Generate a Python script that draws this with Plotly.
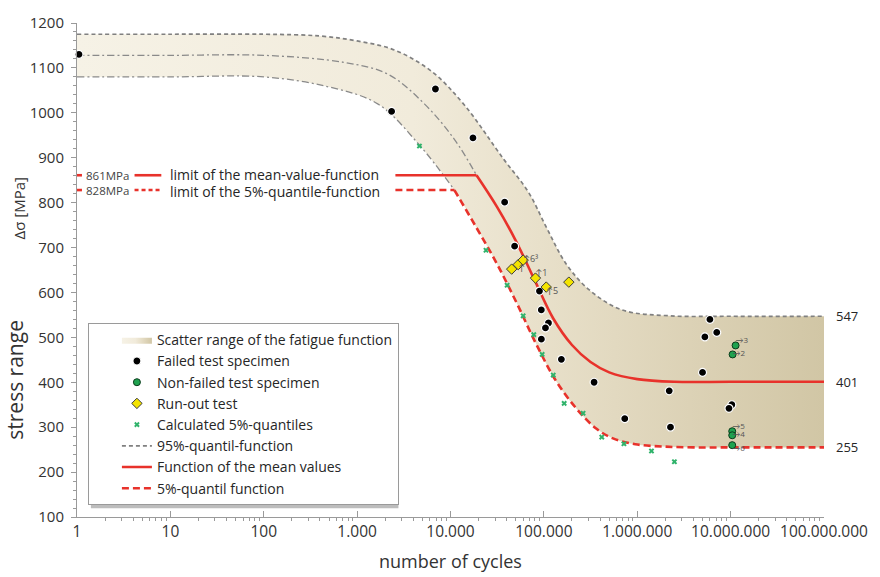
import plotly.graph_objects as go

FONT = "'Open Sans', Lato, sans-serif"
TXT = "#262626"
RED = "#e8322b"
GREY = "#8a8a8a"

# ---------------- axis ticks ----------------
cycle_ticks = [1, 10, 100, 1e3, 1e4, 1e5, 1e6, 1e7, 1e8]
cycle_labels = ["1", "10", "100", "1.000", "10.000", "100.000",
                "1.000.000", "10.000.000", "100.000.000"]
cycle_minor = [k * 10 ** e for e in range(8) for k in range(2, 10)]

# ---------------- fatigue functions (stress range in MPa) ----------------
# 95 % quantile function
q95_N = [1, 10, 100, 400, 1000, 2500, 6300, 14000, 37000, 68000, 107000,
         174000, 309000, 690000, 2.2e6, 1e7, 1e8]
q95_S = [1175, 1175, 1175, 1171, 1160, 1140, 1092, 1018, 897, 824, 744,
         663, 605, 561, 548, 547, 547]

# mean-value function above its limit (not valid, dash-dot)
mean_hi_N = [1, 10, 100, 740, 2140, 5250, 11000, 19000]
mean_hi_S = [1128, 1128, 1128, 1112, 1086, 1020, 941, 861]
# mean-value function below its limit
mean_N = [19000, 31600, 50100, 79400, 126000, 200000, 316000, 501000,
          1e6, 2.5e6, 1e7, 1e8]
mean_S = [861, 790, 715, 628, 542, 483, 445, 422, 407, 401, 401, 401]

# 5 % quantile function above its limit (dash-dot)
q05_hi_N = [1, 10, 100, 490, 1660, 4570, 11000]
q05_hi_S = [1080, 1080, 1080, 1058, 1020, 930, 828]
# 5 % quantile function below its limit
q05_N = [11000, 19000, 31600, 51300, 83200, 135000, 224000, 363000, 550000,
         955000, 1.86e6, 4e6, 1e7, 1e8]
q05_S = [828, 744, 663, 576, 484, 403, 341, 297, 275, 262, 257, 255, 255, 255]

# limits of the functions
mean_limit = 861
q05_limit = 828
limit_start_N = 2570

# endurance levels
endurance = [547, 401, 255]

# ---------------- test results ----------------
failed_N = [1.05, 2340, 6900, 17400, 38000, 48600, 89700, 93900, 112000, 104000,
            94000, 154000, 345000, 2.2e6, 735000, 2.27e6, 5.0e6, 6.0e6, 7.1e6,
            5.3e6, 1.03e7, 9.6e6]
failed_S = [1130, 1003, 1053, 944, 801, 703, 603, 561, 532, 521,
            496, 451, 400, 381, 319, 300, 422, 540, 511, 501, 350, 342]

nonfailed_N = [1.13e7, 1.05e7, 1.04e7, 1.04e7, 1.04e7]
nonfailed_S = [482, 462, 291, 282, 260]
nonfailed_tags = ["\u21923", "\u21922", "\u21925", "\u21924", "\u21926"]
nonfailed_tagpos = ["top right", "middle right", "top right",
                    "middle right", "bottom right"]

runout_N = [45200, 53100, 60000, 81300, 106000, 185000]
runout_S = [652, 662, 672, 632, 612, 623]
runout_tags = ["", "\u2191", "\u21916\u00b3", "\u21911", "\u21915", ""]
runout_tagpos = ["bottom right", "bottom right", "middle right",
                 "top right", "bottom right", "middle right"]

calc5_N = [4650, 24000, 40400, 60000, 78000, 95800, 126000, 165000, 263000,
           417000, 720000, 1.42e6, 2.5e6]
calc5_S = [926, 694, 616, 548, 506, 462, 416, 353, 331, 278, 263, 247, 223]

fig = go.Figure()

# scatter band between the 5 % and the 95 % quantile function
fig.add_trace(go.Scatter(
    x=q05_hi_N + q05_N[1:], y=q05_hi_S + q05_S[1:], mode="lines",
    line=dict(width=0, shape="spline"), showlegend=False, hoverinfo="skip"))
fig.add_trace(go.Scatter(
    x=q95_N, y=q95_S, mode="lines", fill="tonexty",
    line=dict(width=0, shape="spline"),
    fillgradient=dict(type="horizontal",
                      colorscale=[[0, "#f6f2e6"], [0.45, "#f1ebdb"],
                                  [0.62, "#e8e0ca"], [0.82, "#dcd2b6"],
                                  [1, "#d1c6a5"]]),
    name="Scatter range of the fatigue function", legendrank=1))

# dash-dot continuation of the functions above their limits
fig.add_trace(go.Scatter(
    x=mean_hi_N, y=mean_hi_S, mode="lines", showlegend=False,
    line=dict(color=GREY, width=1.3, dash="7px,3px,2px,3px", shape="spline")))
fig.add_trace(go.Scatter(
    x=q05_hi_N, y=q05_hi_S, mode="lines", showlegend=False,
    line=dict(color=GREY, width=1.3, dash="7px,3px,2px,3px", shape="spline")))

# 95 % quantile function
fig.add_trace(go.Scatter(
    x=q95_N, y=q95_S, mode="lines", name="95%-quantil-function", legendrank=6,
    line=dict(color="#808080", width=1.7, dash="4px,3px", shape="spline")))

# limits
fig.add_trace(go.Scatter(
    x=[limit_start_N, mean_N[0]], y=[mean_limit, mean_limit], mode="lines",
    showlegend=False, line=dict(color=RED, width=2.6)))
fig.add_trace(go.Scatter(
    x=[limit_start_N, q05_N[0]], y=[q05_limit, q05_limit], mode="lines",
    showlegend=False, line=dict(color=RED, width=2.6, dash="7px,4px")))

# mean-value and 5 % quantile function
fig.add_trace(go.Scatter(
    x=mean_N, y=mean_S, mode="lines", name="Function of the mean values",
    legendrank=7, line=dict(color=RED, width=2.6, shape="spline")))
fig.add_trace(go.Scatter(
    x=q05_N, y=q05_S, mode="lines", name="5%-quantil function",
    legendrank=8, line=dict(color=RED, width=2.6, dash="7px,4px", shape="spline")))

# calculated 5 % quantiles
fig.add_trace(go.Scatter(
    x=calc5_N, y=calc5_S, mode="markers", name="Calculated 5%-quantiles",
    legendrank=5, cliponaxis=False,
    marker=dict(symbol="x", size=5, color="#30b36b", line=dict(width=0))))
# failed specimens
fig.add_trace(go.Scatter(
    x=failed_N, y=failed_S, mode="markers", name="Failed test specimen",
    legendrank=2, cliponaxis=False,
    marker=dict(symbol="circle", size=8, color="#000000",
                line=dict(color="#ffffff", width=1.2))))
# non-failed specimens
fig.add_trace(go.Scatter(
    x=nonfailed_N, y=nonfailed_S, mode="markers", name="Non-failed test specimen",
    legendrank=3, cliponaxis=False,
    marker=dict(symbol="circle", size=7, color="#1fa24f",
                line=dict(color="#0b3b1c", width=1))))
fig.add_trace(go.Scatter(
    x=nonfailed_N, y=nonfailed_S, mode="text", text=nonfailed_tags,
    textposition=nonfailed_tagpos, showlegend=False, hoverinfo="skip",
    textfont=dict(family=FONT, size=8, color="#555555")))
# run-out tests
fig.add_trace(go.Scatter(
    x=runout_N, y=runout_S, mode="markers", name="Run-out test",
    legendrank=4, cliponaxis=False,
    marker=dict(symbol="diamond", size=8, color="#f4e400",
                line=dict(color="#3a3a3a", width=1))))
fig.add_trace(go.Scatter(
    x=runout_N, y=runout_S, mode="text", text=runout_tags,
    textposition=runout_tagpos, showlegend=False, hoverinfo="skip",
    textfont=dict(family=FONT, size=9, color="#555555")))

# ---------------- limit notes at the left ----------------
px = lambda p: (p - 77) / 753.0          # pixel column -> paper x
py = lambda p: (517 - p) / 502.0         # pixel row -> paper y
shapes = []
annotations = []
for val, dash, note, shift in [
        (mean_limit, "solid", "limit of the mean-value-function", 1),
        (q05_limit, "4px,3px", "limit of the 5%-quantile-function", -1)]:
    shapes.append(dict(type="line", xref="paper", yref="y", x0=0, x1=px(82),
                       y0=val, y1=val, line=dict(color=RED, width=2.6)))
    shapes.append(dict(type="line", xref="paper", yref="y", x0=px(135), x1=px(162),
                       y0=val, y1=val, line=dict(color=RED, width=2.6, dash=dash)))
    annotations.append(dict(xref="paper", yref="y", x=px(84), y=val, xanchor="left",
                            text=f"{val}MPa", showarrow=False,
                            font=dict(family=FONT, size=11.5, color="#444444")))
    annotations.append(dict(xref="paper", yref="y", x=px(170), y=val, xanchor="left",
                            yshift=shift, borderpad=0,
                            text=note, showarrow=False,
                            font=dict(family=FONT, size=14, color=TXT)))

# shadow behind the legend box
shapes.append(dict(type="rect", xref="paper", yref="paper", layer="above",
                   x0=px(91), x1=px(401), y0=py(508), y1=py(328),
                   fillcolor="#bdbdbd", line=dict(width=0)))

# endurance levels at the right
for val in endurance:
    annotations.append(dict(xref="paper", yref="y", x=1, xshift=10, y=val,
                            xanchor="left", text=str(val), showarrow=False,
                            font=dict(family=FONT, size=13, color=TXT)))

# axis titles
annotations.append(dict(xref="paper", yref="paper", x=0.5, y=py(562),
                        yanchor="middle", xanchor="center",
                        text="number of cycles", showarrow=False,
                        font=dict(family=FONT, size=18, color="#333333")))
annotations.append(dict(xref="paper", yref="paper", x=px(15), y=py(377),
                        xanchor="center", yanchor="middle",
                        textangle=-90, text="stress range", showarrow=False,
                        font=dict(family=FONT, size=21, color="#333333")))
annotations.append(dict(xref="paper", yref="paper", x=px(19), y=py(203),
                        xanchor="center", yanchor="middle",
                        textangle=-90, text="\u0394\u03c3 [MPa]", showarrow=False,
                        font=dict(family=FONT, size=15, color="#333333")))

fig.update_layout(
    width=880, height=577,
    margin=dict(l=77, r=50, t=15, b=60),
    paper_bgcolor="white", plot_bgcolor="white",
    font=dict(family=FONT, color=TXT),
    shapes=shapes, annotations=annotations,
    legend=dict(x=px(88), xanchor="left", y=py(505), yanchor="bottom",
                traceorder="normal",
                bgcolor="white", bordercolor="#9a9a9a", borderwidth=1,
                indentation=28, font=dict(family=FONT, size=14, color=TXT),
                tracegroupgap=0),
    xaxis=dict(type="log", range=[0, 8], tickmode="array", tickvals=cycle_ticks,
               ticktext=cycle_labels, showgrid=False, zeroline=False,
               showline=True, linecolor="#9a9a9a", linewidth=1,
               ticks="inside", ticklen=6, tickcolor="#9a9a9a",
               tickfont=dict(family=FONT, size=15.5, color="#333333"),
               minor=dict(tickmode="array", tickvals=cycle_minor, ticks="outside",
                          ticklen=3, tickcolor="#9a9a9a", showgrid=False)),
    yaxis=dict(range=[100, 1200], dtick=100, showgrid=False, zeroline=False,
               showline=True, linecolor="#9a9a9a", linewidth=1,
               ticks="outside", ticklen=5, tickcolor="#9a9a9a", ticklabelstandoff=4,
               tickfont=dict(family=FONT, size=15, color="#333333"),
               minor=dict(dtick=20, ticks="outside", ticklen=3,
                          tickcolor="#9a9a9a", showgrid=False)),
    showlegend=True,
)

fig.write_html("out.html")
